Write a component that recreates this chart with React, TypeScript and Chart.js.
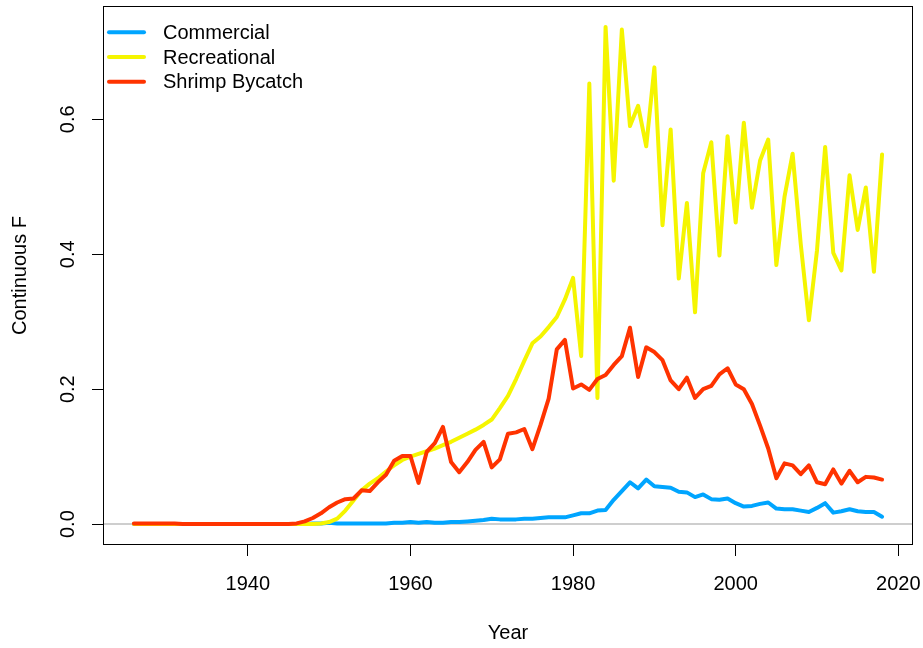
import React, { useEffect, useRef } from 'react';
import { Chart, registerables } from 'chart.js';

Chart.register(...registerables);

const years = [
  1926, 1927, 1928, 1929,
  1930, 1931, 1932, 1933, 1934, 1935, 1936, 1937, 1938, 1939,
  1940, 1941, 1942, 1943, 1944, 1945, 1946, 1947, 1948, 1949,
  1950, 1951, 1952, 1953, 1954, 1955, 1956, 1957, 1958, 1959,
  1960, 1961, 1962, 1963, 1964, 1965, 1966, 1967, 1968, 1969,
  1970, 1971, 1972, 1973, 1974, 1975, 1976, 1977, 1978, 1979,
  1980, 1981, 1982, 1983, 1984, 1985, 1986, 1987, 1988, 1989,
  1990, 1991, 1992, 1993, 1994, 1995, 1996, 1997, 1998, 1999,
  2000, 2001, 2002, 2003, 2004, 2005, 2006, 2007, 2008, 2009,
  2010, 2011, 2012, 2013, 2014, 2015, 2016, 2017, 2018,
];

const commercial = [
  0, 0, 0, 0,
  0, 0, 0, 0, 0, 0, 0, 0, 0, 0,
  0, 0, 0, 0, 0, 0, 0, 0, 0.001, 0.001,
  0.002, 0.001, 0.001, 0.001, 0.001, 0.001, 0.001, 0.001, 0.002, 0.002,
  0.003, 0.002, 0.003, 0.002, 0.002, 0.003, 0.003, 0.004, 0.005, 0.006,
  0.008, 0.007, 0.007, 0.007, 0.008, 0.008, 0.009, 0.010, 0.010, 0.010,
  0.013, 0.016, 0.016, 0.020, 0.021, 0.036, 0.049, 0.062, 0.053, 0.066,
  0.056, 0.055, 0.054, 0.048, 0.047, 0.040, 0.044, 0.037, 0.036, 0.038,
  0.031, 0.026, 0.027, 0.030, 0.032, 0.023, 0.022, 0.022, 0.020, 0.018,
  0.024, 0.031, 0.017, 0.019, 0.022, 0.019, 0.018, 0.018, 0.011,
];

const recreational = [
  0, 0, 0, 0,
  0, 0, 0, 0, 0, 0, 0, 0, 0, 0,
  0, 0, 0, 0, 0, 0, 0, 0, 0, 0.001,
  0.003, 0.008, 0.02, 0.035, 0.05, 0.06, 0.068, 0.078, 0.087, 0.095,
  0.1, 0.104, 0.108, 0.112, 0.117, 0.122, 0.128, 0.134, 0.14, 0.147,
  0.155, 0.172, 0.19, 0.215, 0.242, 0.268, 0.278, 0.292, 0.307, 0.333,
  0.365, 0.249, 0.653, 0.187, 0.737, 0.509, 0.733, 0.59, 0.62, 0.56,
  0.677, 0.443, 0.585, 0.364, 0.476, 0.314, 0.52, 0.566, 0.398, 0.575,
  0.447, 0.595, 0.469, 0.539, 0.57, 0.384, 0.485, 0.549, 0.415, 0.302,
  0.406, 0.559, 0.402, 0.376, 0.517, 0.436, 0.499, 0.374, 0.548,
];

const shrimpBycatch = [
  0.001, 0.001, 0.001, 0.001,
  0.001, 0.001, 0, 0, 0, 0, 0, 0, 0, 0,
  0, 0, 0, 0, 0, 0, 0.001, 0.004, 0.009, 0.016,
  0.025, 0.032, 0.037, 0.038, 0.05, 0.049, 0.062, 0.073, 0.094, 0.101,
  0.101, 0.061, 0.107, 0.12, 0.144, 0.092, 0.077, 0.092, 0.11, 0.122,
  0.084, 0.096, 0.134, 0.136, 0.141, 0.111, 0.147, 0.186, 0.259, 0.273,
  0.201, 0.207, 0.199, 0.215, 0.221, 0.236, 0.249, 0.291, 0.218, 0.262,
  0.255, 0.243, 0.213, 0.2, 0.217, 0.187, 0.2, 0.205, 0.222, 0.231,
  0.207, 0.2, 0.178, 0.146, 0.112, 0.068, 0.09, 0.087, 0.074, 0.087,
  0.062, 0.059, 0.081, 0.06, 0.079, 0.062, 0.07, 0.069, 0.066,
];

const seriesLabels = ['Commercial', 'Recreational', 'Shrimp Bycatch'];
const seriesColors = ['#00A5FF', '#F5F500', '#FF3300'];

const xTicks = [1940, 1960, 1980, 2000, 2020];
const xTickLabels = ['1940', '1960', '1980', '2000', '2020'];
const yTicks = [0, 0.2, 0.4, 0.6];
const yTickLabels = ['0.0', '0.2', '0.4', '0.6'];

const xTitle = 'Year';
const yTitle = 'Continuous F';

const X_MIN = 1922.32;
const X_MAX = 2021.68;
const Y_MIN = -0.0295;
const Y_MAX = 0.7665;

const FONT = '"Liberation Sans", Arial, Helvetica, sans-serif';

const zeroLinePlugin = {
  id: 'zeroLine',
  beforeDatasetsDraw(chart: any) {
    const { ctx, chartArea, scales } = chart;
    const y = scales.y.getPixelForValue(0);
    ctx.save();
    ctx.strokeStyle = '#BEBEBE';
    ctx.lineWidth = 1.5;
    ctx.beginPath();
    ctx.moveTo(chartArea.left, y);
    ctx.lineTo(chartArea.right, y);
    ctx.stroke();
    ctx.restore();
  },
};

const boxPlugin = {
  id: 'box',
  afterDraw(chart: any) {
    const { ctx, chartArea } = chart;
    ctx.save();
    ctx.strokeStyle = '#000';
    ctx.lineWidth = 1;
    ctx.strokeRect(
      chartArea.left - 0.5,
      chartArea.top - 0.5,
      chartArea.right - chartArea.left + 1,
      chartArea.bottom - chartArea.top + 1
    );
    ctx.restore();
  },
};

const legendPlugin = {
  id: 'rLegend',
  afterDraw(chart: any) {
    const { ctx, chartArea } = chart;
    ctx.save();
    ctx.font = '20px ' + FONT;
    ctx.textBaseline = 'middle';
    ctx.textAlign = 'left';
    ctx.fillStyle = '#000';
    chart.data.datasets.forEach((ds: any, i: number) => {
      const y = chartArea.top + 25.3 + i * 24.7;
      ctx.strokeStyle = ds.borderColor;
      ctx.lineWidth = 4;
      ctx.lineCap = 'round';
      ctx.beginPath();
      ctx.moveTo(chartArea.left + 5, y);
      ctx.lineTo(chartArea.left + 40, y);
      ctx.stroke();
      ctx.fillText(ds.label, chartArea.left + 59, y + 1);
    });
    ctx.restore();
  },
};

export default function App() {
  const canvasRef = useRef<HTMLCanvasElement | null>(null);

  useEffect(() => {
    if (!canvasRef.current) return;
    Chart.defaults.font.family = FONT;
    Chart.defaults.font.size = 20;
    Chart.defaults.color = '#000';

    const seriesValues = [commercial, recreational, shrimpBycatch];
    const datasets = seriesValues.map((vals, i) => ({
      label: seriesLabels[i],
      data: years.map((yr, j) => ({ x: yr, y: vals[j] })),
      borderColor: seriesColors[i],
      backgroundColor: seriesColors[i],
      borderWidth: 4,
      pointRadius: 0,
      tension: 0,
      fill: false,
      borderJoinStyle: 'round' as const,
      borderCapStyle: 'round' as const,
      order: 3 - i,
    }));

    const chart = new Chart(canvasRef.current, {
      type: 'line',
      data: { datasets },
      options: {
        animation: false,
        responsive: false,
        devicePixelRatio: 1,
        layout: { padding: { top: 7, right: 11, left: 0, bottom: 0 } },
        plugins: {
          legend: { display: false },
          tooltip: { enabled: false },
        },
        scales: {
          x: {
            type: 'linear',
            min: X_MIN,
            max: X_MAX,
            afterBuildTicks: (s: any) => {
              s.ticks = xTicks.map((v) => ({ value: v }));
            },
            ticks: {
              callback: (_v: any, i: number) => xTickLabels[i],
              autoSkip: false,
              maxRotation: 0,
              minRotation: 0,
              padding: 16,
              font: { size: 20 },
              color: '#000',
            },
            grid: { drawOnChartArea: false, drawTicks: true, tickLength: 12, color: '#000', lineWidth: 1 },
            border: { display: false },
            title: { display: true, text: xTitle, padding: { top: 0, bottom: 3 }, font: { size: 20 }, color: '#000' },
            afterFit: (s: any) => {
              s.height = 104;
              s.paddingLeft = 0;
              s.paddingRight = 0;
              s.paddingTop = 0;
              s.paddingBottom = 0;
            },
          },
          y: {
            type: 'linear',
            min: Y_MIN,
            max: Y_MAX,
            afterBuildTicks: (s: any) => {
              s.ticks = yTicks.map((v) => ({ value: v }));
            },
            ticks: {
              callback: (_v: any, i: number) => yTickLabels[i],
              autoSkip: false,
              minRotation: 90,
              maxRotation: 90,
              crossAlign: 'center',
              padding: 10,
              font: { size: 20 },
              color: '#000',
            },
            grid: { drawOnChartArea: false, drawTicks: true, tickLength: 12, color: '#000', lineWidth: 1 },
            border: { display: false },
            title: { display: true, text: yTitle, padding: { top: 8, bottom: 0 }, font: { size: 20 }, color: '#000' },
            afterFit: (s: any) => {
              s.width = 104;
              s.paddingLeft = 0;
              s.paddingRight = 0;
              s.paddingTop = 0;
              s.paddingBottom = 0;
            },
          },
        },
      } as any,
      plugins: [zeroLinePlugin, boxPlugin, legendPlugin],
    });

    return () => chart.destroy();
  }, []);

  return (
    <div style={{ position: 'absolute', left: 0, top: 0, width: 923, height: 648, background: '#fff' }}>
      <canvas ref={canvasRef} width={923} height={648} style={{ display: 'block' }} />
    </div>
  );
}
